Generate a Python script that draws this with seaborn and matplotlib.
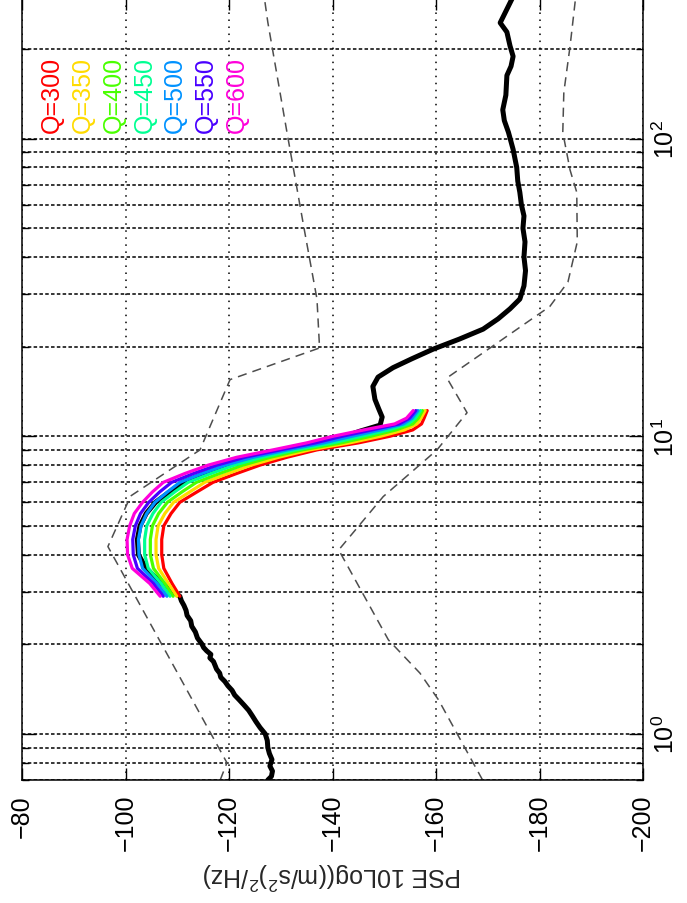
import colorsys

import matplotlib
matplotlib.use("Agg")
import matplotlib.pyplot as plt
import numpy as np
import pandas as pd
import seaborn as sns
from matplotlib.ticker import LogLocator, NullFormatter

# ---------------------------------------------------------------- data
# measured acceleration PSE (thick black curve)
freq_meas = [0.70, 0.72, 0.75, 0.78, 0.82, 0.86, 0.90, 0.95, 1.00,
             1.05, 1.10, 1.15, 1.20, 1.25, 1.30, 1.35, 1.40, 1.45, 1.50,
             1.55, 1.60, 1.65, 1.70, 1.75, 1.80, 1.85, 1.90, 1.95, 2.00,
             2.10, 2.20, 2.30, 2.40, 2.50, 2.60, 2.70, 2.80, 2.90,
             3.2, 3.6, 4.0, 4.5, 5.0, 5.5, 6.0, 6.5, 7.0, 7.5,
             8.0, 8.5, 9.0, 9.5, 10.0, 10.4, 10.9, 11.6, 12.4, 13.3,
             14.7, 15.8, 17.0, 18.2, 19.6, 21.2, 22.9, 24.8, 26.8, 28.9,
             32, 36, 40, 45, 50, 55, 60, 66, 72, 80,
             92, 105, 115, 125, 140, 163, 175, 189, 205, 228,
             245, 270, 300]
pse_meas = [-127.5, -128.2, -128.4, -127.9, -128.3, -127.8, -127.5, -127.4, -127.0,
            -126.0, -125.2, -124.5, -123.8, -122.9, -122.0, -121.1, -120.6, -119.8, -119.2,
            -118.4, -118.2, -117.6, -117.3, -117.0, -116.3, -116.5, -115.7, -115.1, -114.8,
            -113.9, -113.5, -112.8, -112.6, -111.9, -111.7, -111.3, -110.8, -110.5,
            -107.0, -104.0, -102.5, -102.3, -102.8, -104.0, -105.8, -108.5, -111.0, -115.5,
            -120.0, -125.5, -131.5, -138.0, -142.5, -145.3, -149.2, -149.6, -148.9, -148.2,
            -147.8, -148.8, -151.7, -155.3, -159.4, -164.5, -169.1, -172.0, -174.3, -176.2,
            -177.0, -177.3, -177.0, -177.2, -176.8, -177.0, -176.5, -176.2, -175.8, -175.6,
            -174.9, -174.0, -173.2, -172.9, -173.5, -173.7, -174.5, -174.9, -174.3, -173.7,
            -172.4, -173.6, -174.9]

# upper and lower noise bounds (dashed grey)
freq_hi = [0.70, 0.80, 4.26, 6.3, 9.0, 15.5, 19.8, 28.9, 50, 105, 246, 300]
pse_hi = [-118.3, -119.6, -96.6, -101.0, -114.4, -120.2, -137.5, -137.0,
          -134.5, -131.2, -127.5, -126.8]
freq_lo = [0.70, 1.30, 1.60, 2.07, 4.15, 6.27, 9.0, 12.0, 15.7, 27.3,
           33, 45, 66, 78.5, 105, 143, 204, 300]
pse_lo = [-169.0, -160.5, -156.9, -150.8, -141.2, -149.8, -160.2, -166.0, -162.1,
          -182.0, -185.5, -187.3, -187.2, -185.9, -184.5, -184.7, -185.9, -187.0]

# modelled resonance for several quality factors
q_values = [300, 350, 400, 450, 500, 550, 600]
freq_q = [2.9, 3.2, 3.6, 4.0, 4.5, 5.0, 5.5, 6.0, 6.5, 7.0,
          7.5, 8.0, 8.5, 9.0, 9.5, 10.0, 10.5, 11.0, 11.5, 12.2]
pse_q300 = [-110.5, -109.0, -107.4, -107.0, -107.0, -107.4, -108.8, -110.5, -113.8, -116.9,
            -121.5, -126.0, -131.2, -137.0, -145.0, -151.1, -155.5, -157.2, -157.7, -158.3]
pse_q350 = [-109.9, -108.3, -106.4, -105.9, -105.9, -106.3, -107.6, -109.3, -112.4, -115.3,
            -119.8, -124.3, -129.6, -135.6, -143.3, -149.3, -153.9, -156.3, -157.1, -157.9]
pse_q400 = [-109.2, -107.6, -105.4, -104.8, -104.8, -105.2, -106.4, -108.1, -110.9, -113.7,
            -118.2, -122.7, -128.0, -134.2, -141.7, -147.4, -152.3, -155.5, -156.6, -157.4]
pse_q450 = [-108.6, -106.9, -104.4, -103.7, -103.7, -104.1, -105.3, -106.9, -109.5, -112.1,
            -116.5, -121.0, -126.4, -132.8, -140.0, -145.6, -150.8, -154.6, -156.0, -157.0]
pse_q500 = [-108.0, -106.1, -103.3, -102.6, -102.5, -103.0, -104.1, -105.7, -108.1, -110.5,
            -114.8, -119.3, -124.7, -131.3, -138.3, -143.8, -149.2, -153.7, -155.4, -156.5]
pse_q550 = [-107.3, -105.4, -102.3, -101.5, -101.4, -101.9, -102.9, -104.5, -106.6, -108.9,
            -113.2, -117.7, -123.1, -129.9, -136.7, -141.9, -147.6, -152.9, -154.9, -156.1]
pse_q600 = [-106.7, -104.7, -101.3, -100.4, -100.3, -100.8, -101.7, -103.3, -105.2, -107.3,
            -111.5, -116.0, -121.5, -128.5, -135.0, -140.1, -146.0, -152.0, -154.3, -155.6]
q_curves = [pse_q300, pse_q350, pse_q400, pse_q450, pse_q500, pse_q550, pse_q600]

pse_ticks = [-80, -100, -120, -140, -160, -180, -200]

# ---------------------------------------------------------------- style
sns.set_theme(style="white")
plt.rcParams["font.family"] = ["Liberation Sans", "DejaVu Sans"]
plt.rcParams["mathtext.fontset"] = "custom"
plt.rcParams["mathtext.rm"] = "Liberation Sans"
plt.rcParams["mathtext.it"] = "Liberation Sans:italic"
plt.rcParams["mathtext.bf"] = "Liberation Sans:bold"
plt.rcParams["axes.unicode_minus"] = True

q_colors = {q: colorsys.hsv_to_rgb(i / 7.0, 1.0, 1.0) for i, q in enumerate(q_values)}

df_meas = pd.DataFrame({"freq": freq_meas, "pse": pse_meas})
df_hi = pd.DataFrame({"freq": freq_hi, "pse": pse_hi})
df_lo = pd.DataFrame({"freq": freq_lo, "pse": pse_lo})
df_q = pd.DataFrame(
    [(q, f, p) for q, vals in zip(q_values, q_curves) for f, p in zip(freq_q, vals)],
    columns=["Q", "freq", "pse"],
)

# ---------------------------------------------------------------- figure
W, H = 687, 904
fig = plt.figure(figsize=(W / 100, H / 100), dpi=100)
ax_left, ax_right, ax_bottom, ax_top = 22, 643, 781, -2.4
ax = fig.add_axes([ax_left / W, (H - ax_bottom) / H,
                   (ax_right - ax_left) / W, (ax_bottom - ax_top) / H])
ax.set_yscale("log")

for d in (df_hi, df_lo):
    sns.lineplot(data=d, x="pse", y="freq", sort=False, estimator=None,
                 color="#4d4d4d", lw=1.1, ax=ax)
for ln in ax.get_lines():
    ln.set_dashes((6, 4))

sns.lineplot(data=df_meas, x="pse", y="freq", sort=False, estimator=None,
             color="black", lw=3.6, ax=ax)
sns.lineplot(data=df_q, x="pse", y="freq", hue="Q", palette=q_colors,
             sort=False, estimator=None, lw=2.3, legend=False, ax=ax)

# ---------------------------------------------------------------- axes
ax.set_xlim(-80, -200)
ax.set_ylim(0.7, 300)
ax.set_xticks(pse_ticks)
ax.yaxis.set_major_locator(LogLocator(base=10, numticks=10))
ax.yaxis.set_minor_locator(LogLocator(base=10, subs=np.arange(2, 10), numticks=30))
ax.yaxis.set_minor_formatter(NullFormatter())

ax.tick_params(axis="x", which="major", direction="in", top=True, bottom=True,
               length=9, width=1.0, labelrotation=90, labelsize=18, pad=10,
               colors="black")
ax.tick_params(axis="y", which="both", direction="in", left=True, right=True,
               labelleft=False, labelright=True, labelrotation=90, labelsize=18,
               pad=7, colors="black")
ax.tick_params(axis="y", which="major", length=10, width=1.0)
ax.tick_params(axis="y", which="minor", length=5, width=1.0)

ax.grid(False)
ax.xaxis.grid(True, which="major", color="black", lw=1.1, linestyle=(0, (1.0, 3.6)))
ax.yaxis.grid(True, which="both", color="black", lw=1.1, linestyle=(0, (2.3, 1.5)))
ax.set_axisbelow(True)

for sp in ax.spines.values():
    sp.set_color("black")
    sp.set_linewidth(1.1)

ax.set_ylabel("")
ax.set_xlabel("PSE 10Log((m/s$^2$)$^2$/Hz)", fontsize=18, rotation=180)
ax.xaxis.set_label_coords(0.5, -0.121)
ax.xaxis.label.set_va("center")

# colour key for the quality factors
for i, q in enumerate(q_values):
    ax.text(0.048 + i * 0.0497, 0.827, f"Q={q}", color=q_colors[q],
            rotation=90, ha="center", va="bottom", fontsize=18,
            transform=ax.transAxes)

fig.canvas.draw()
for t in ax.yaxis.get_majorticklabels():
    t.set_verticalalignment("center")

fig.savefig("out.png", dpi=100)
